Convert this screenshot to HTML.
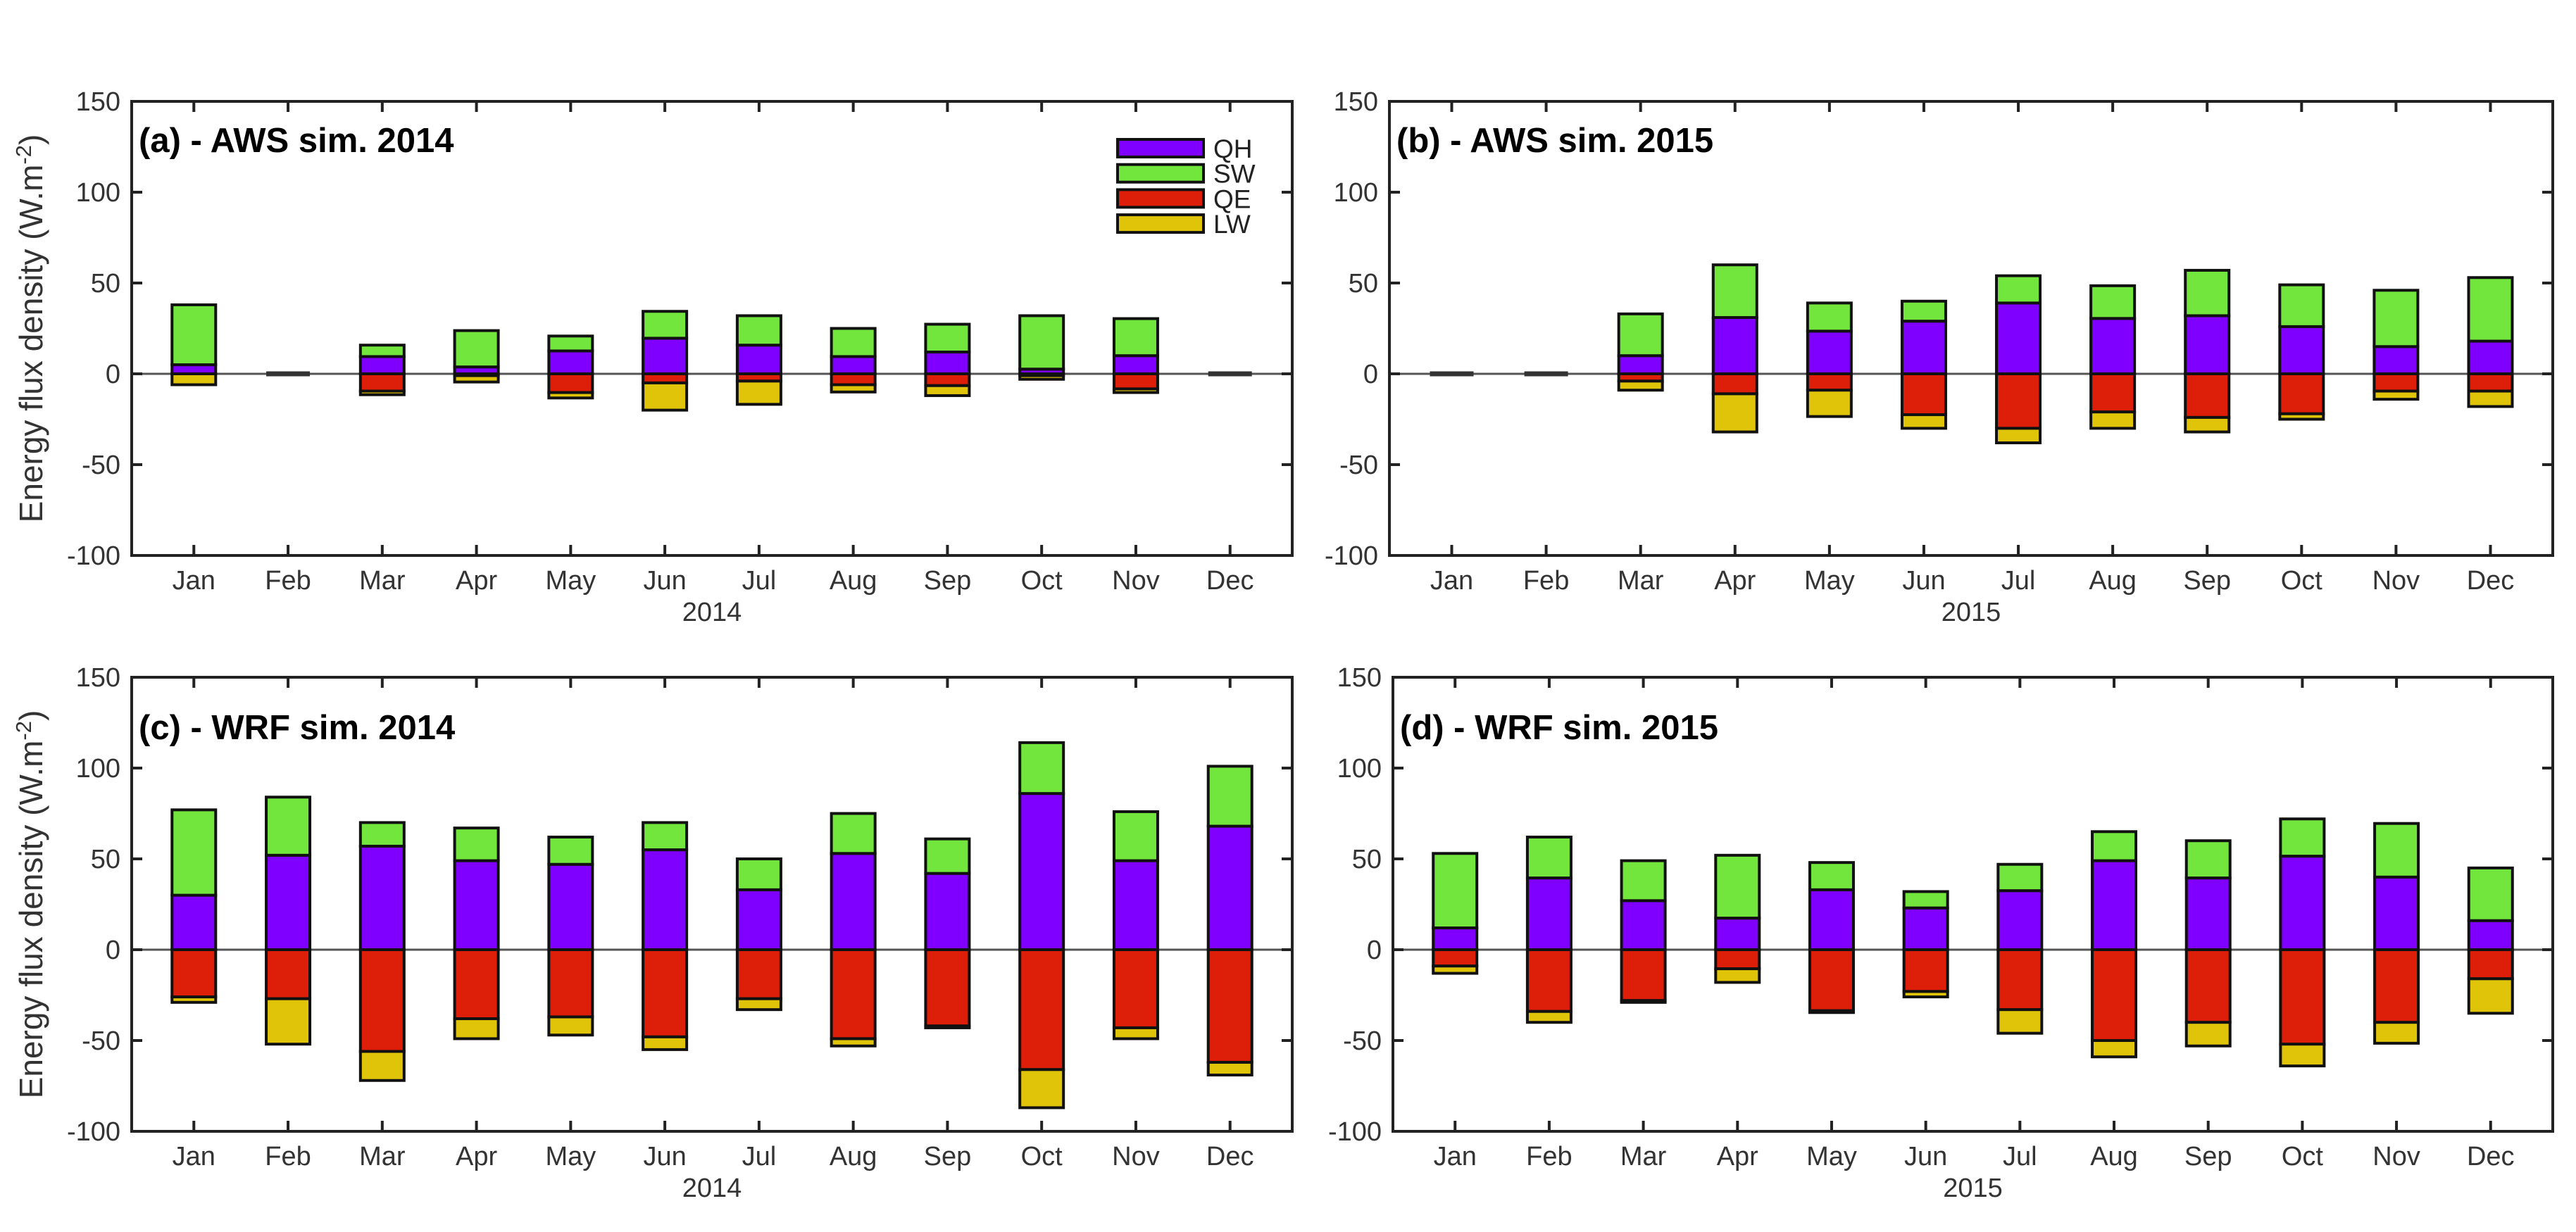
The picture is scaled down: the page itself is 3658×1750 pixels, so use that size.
<!DOCTYPE html>
<html><head><meta charset="utf-8"><style>
html,body{margin:0;padding:0;background:#fff;}
svg{display:block;}
text{font-family:"Liberation Sans",Arial,sans-serif;}
</style></head><body>
<svg id="chart" width="3658" height="1750" viewBox="0 0 3658 1750" xmlns="http://www.w3.org/2000/svg"></svg>
<script>
const months = ["Jan","Feb","Mar","Apr","May","Jun","Jul","Aug","Sep","Oct","Nov","Dec"];
const yTicks = [150,100,50,0,-50,-100];
const seriesNames = ["QH","SW","QE","LW"];
const seriesColors = ["#8000ff","#72e63c","#dd1e08","#dfc40a"];
// panel (a) AWS 2014
const aQH = [5,0,9.5,3.8,12.6,19.6,15.8,9.5,12,2.6,10,0];
const aSW = [33,0,6.3,20,8.2,14.8,16.2,15.5,15.3,29.4,20.4,0];
const aQE = [0,0,-9.5,-1,-10.3,-5,-4,-6,-6.5,-1,-8.3,0];
const aLW = [-6,0,-2,-3.5,-3,-15,-12.8,-4,-5.5,-2,-2,0];
// panel (b) AWS 2015
const bQH = [0,0,10,31,23.5,29,39,30.5,32,26,15,18];
const bSW = [0,0,23,29,15.5,11,15,18,25,23,31,35];
const bQE = [0,0,-4,-11,-9,-22.5,-30,-21,-24,-22,-9.5,-9.5];
const bLW = [0,0,-5,-21,-14.5,-7.5,-8,-9,-8,-3,-4.5,-8.5];
// panel (c) WRF 2014
const cQH = [30,52,57,49,47,55,33,53,42,86,49,68];
const cSW = [47,32,13,18,15,15,17,22,19,28,27,33];
const cQE = [-26,-27,-56,-38,-37,-48,-27,-49,-42,-66,-43,-62];
const cLW = [-3,-25,-16,-11,-10,-7,-6,-4,-1,-21,-6,-7];
// panel (d) WRF 2015
const dQH = [12,39.5,27,17.4,33,23,32.5,49,39.5,51.5,40,16];
const dSW = [41,22.5,22,34.6,15,9,14.5,16,20.5,20.5,29.5,29];
const dQE = [-9,-34,-28,-10.5,-33.6,-23,-33,-50,-40,-52,-40,-16];
const dLW = [-4,-6,-1,-7.5,-1,-3,-13,-9,-13,-12,-11.5,-19];

const NS = "http://www.w3.org/2000/svg";
const svg = document.getElementById("chart");
function el(tag, attrs, parent, txt){
  const e = document.createElementNS(NS, tag);
  for (const k in attrs) e.setAttribute(k, attrs[k]);
  if (txt !== undefined) e.textContent = txt;
  (parent||svg).appendChild(e);
  return e;
}
const panels = [
  {id:"a", title:"(a) - AWS sim. 2014", year:"2014", L:187, R:1835, zero:531, data:[aQH,aSW,aQE,aLW], legend:true, ylabel:true},
  {id:"b", title:"(b) - AWS sim. 2015", year:"2015", L:1973, R:3625, zero:531, data:[bQH,bSW,bQE,bLW]},
  {id:"c", title:"(c) - WRF sim. 2014", year:"2014", L:187, R:1835, zero:1349, data:[cQH,cSW,cQE,cLW], ylabel:true},
  {id:"d", title:"(d) - WRF sim. 2015", year:"2015", L:1978, R:3625, zero:1349, data:[dQH,dSW,dQE,dLW]}
];
const PXU = 2.58;
panels.forEach(p => {
  const g = el("g", {});
  
  
  const yS = v => p.zero - v * PXU;
  const top = yS(150), bot = yS(-100);
  const sp = (p.R - p.L) / 12.32;
  const xS = i => p.L + (i + 0.66) * sp;
  const bw = 62;
  const zl = el("line", {x1:p.L, x2:p.R, y1:yS(0), y2:yS(0), stroke:"#555", "stroke-width":3}, g);
  
  
  months.forEach((m, i) => {
    let pos = 0, neg = 0;
    if (p.data.every(a => a[i] === 0)) {
      const zb = el("line", {x1:xS(i)-bw/2, x2:xS(i)+bw/2, y1:yS(0), y2:yS(0), stroke:"#333", "stroke-width":7}, g);
      
      
      return;
    }
    for (let s = 0; s < 4; s++) {
      const v = p.data[s][i];
      let y0, y1;
      if (v >= 0) { y0 = pos; y1 = pos + v; pos = y1; }
      else { y0 = neg; y1 = neg + v; neg = y1; }
      if (v === 0) continue;
      const r = el("rect", {x:xS(i)-bw/2, y:Math.min(yS(y0),yS(y1)), width:bw, height:Math.abs(yS(y1)-yS(y0)),
        fill:seriesColors[s], stroke:"#111", "stroke-width":4}, g);
      
      
    }
  });
  const box = el("rect", {x:p.L, y:top, width:p.R-p.L, height:bot-top, fill:"none", stroke:"#222", "stroke-width":4}, g);
  
  
  yTicks.forEach(t => {
    const y = yS(t);
    el("line", {x1:p.L, x2:p.L+15, y1:y, y2:y, stroke:"#222", "stroke-width":4}, g);
    el("line", {x1:p.R-15, x2:p.R, y1:y, y2:y, stroke:"#222", "stroke-width":4}, g);
    const tl = el("text", {x:p.L-16, y:y+13, "text-anchor":"end", "font-size":38, fill:"#333"}, g, String(t));
    
    
  });
  months.forEach((m, i) => {
    const x = xS(i);
    el("line", {x1:x, x2:x, y1:bot, y2:bot-15, stroke:"#222", "stroke-width":4}, g);
    el("line", {x1:x, x2:x, y1:top, y2:top+15, stroke:"#222", "stroke-width":4}, g);
    const ml = el("text", {x:x, y:bot+48, "text-anchor":"middle", "font-size":38, fill:"#333"}, g, m);
    
    
  });
  const yl = el("text", {x:(p.L+p.R)/2, y:bot+93, "text-anchor":"middle", "font-size":38, fill:"#333"}, g, p.year);
  
  
  const tt = el("text", {x:p.L+10, y:top + (p.id==="a"||p.id==="b" ? 72 : 88), "font-size":49, "font-weight":"bold", fill:"#000"}, g, p.title);
  
  
  if (p.ylabel) {
    const cy = (top + bot) / 2;
    const yt = el("text", {x:0, y:0, transform:"translate(60," + cy + ") rotate(-90)", "text-anchor":"middle", "font-size":46, fill:"#333"}, g);
    
    
    el("tspan", {}, yt, "Energy flux density (W.m");
    el("tspan", {dy:-16, "font-size":31}, yt, "-2");
    el("tspan", {dy:16}, yt, ")");
  }
  if (p.legend) {
    const lg = el("g", {}, g);
    
    
    seriesNames.forEach((n, s) => {
      const y = 198 + s * 35.7;
      const e = el("g", {}, lg);
      
      
      el("rect", {x:1587, y:y, width:122, height:25, fill:seriesColors[s], stroke:"#111", "stroke-width":4}, e);
      el("text", {x:1723, y:y+26, "font-size":37, fill:"#222"}, e, n);
    });
  }
});
</script>
</body></html>
